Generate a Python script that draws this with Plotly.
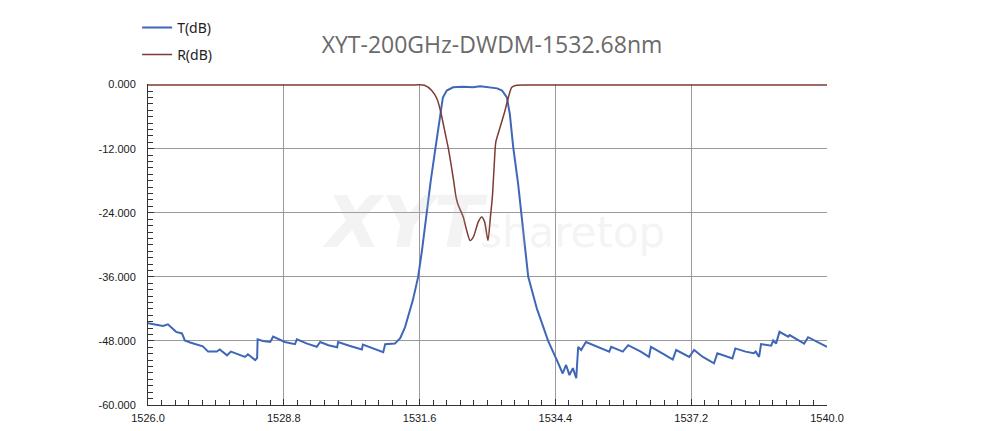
import numpy as np
import plotly.graph_objects as go

# Transmission curve T(dB): wavelength (nm) and level (dB)
t_wavelength = [1526.00, 1526.31, 1526.41, 1526.52, 1526.58, 1526.70, 1526.76, 1526.87, 1527.13, 1527.24,
                1527.42, 1527.48, 1527.63, 1527.71, 1527.90, 1528.00, 1528.06, 1528.21, 1528.25, 1528.26,
                1528.37, 1528.52, 1528.58, 1528.82, 1529.03, 1529.07, 1529.28, 1529.48, 1529.55, 1529.72,
                1529.90, 1529.92, 1530.15, 1530.41, 1530.43, 1530.65, 1530.85, 1530.89, 1531.09, 1531.20,
                1531.30, 1531.46, 1531.57, 1531.65, 1531.75, 1531.83, 1531.92, 1532.02, 1532.08, 1532.16,
                1532.29, 1532.49, 1532.70, 1532.85, 1533.05, 1533.20, 1533.30, 1533.40, 1533.46, 1533.53,
                1533.63, 1533.70, 1533.84, 1534.02, 1534.25, 1534.43, 1534.55, 1534.62, 1534.69, 1534.76,
                1534.83, 1534.87, 1534.93, 1535.03, 1535.24, 1535.51, 1535.55, 1535.79, 1535.90, 1536.16,
                1536.33, 1536.37, 1536.64, 1536.82, 1536.89, 1537.16, 1537.26, 1537.44, 1537.67, 1537.74,
                1538.05, 1538.11, 1538.32, 1538.49, 1538.53, 1538.60, 1538.64, 1538.85, 1538.89, 1538.95,
                1539.02, 1539.20, 1539.23, 1539.53, 1539.61, 1540.00]
t_level = [-44.7, -45.2, -44.9, -45.7, -46.3, -46.6, -47.9, -48.3, -49.0, -50.0,
           -50.0, -49.6, -50.7, -50.0, -50.7, -51.0, -50.5, -51.6, -51.2, -47.7,
           -48.0, -48.2, -47.2, -48.2, -48.6, -47.7, -48.5, -49.1, -48.2, -48.8,
           -49.2, -48.2, -48.9, -49.6, -48.7, -49.4, -50.1, -48.6, -48.5, -47.5,
           -45.4, -40.4, -36.0, -31.0, -23.6, -18.0, -12.3, -5.5, -2.4, -1.1,
           -0.5, -0.4, -0.5, -0.3, -0.5, -0.7, -1.1, -2.4, -5.5, -11.7,
           -18.5, -24.0, -36.0, -42.0, -48.0, -51.6, -54.1, -52.5, -54.4, -53.1,
           -55.0, -49.1, -49.7, -48.2, -49.0, -50.0, -49.1, -50.0, -48.8, -50.0,
           -51.0, -49.1, -50.5, -51.5, -49.7, -51.0, -49.7, -51.0, -52.2, -50.3,
           -51.3, -49.4, -50.0, -50.3, -50.0, -51.0, -48.6, -48.9, -47.9, -48.5,
           -46.3, -47.2, -46.9, -48.5, -47.3, -49.1]

# Reflection curve R(dB)
r_wavelength = [1526.00, 1531.50, 1531.70, 1531.85, 1531.96, 1532.03, 1532.13, 1532.20, 1532.30, 1532.35,
                1532.39, 1532.50, 1532.57, 1532.64, 1532.71, 1532.81, 1532.88, 1532.94, 1533.01, 1533.06,
                1533.10, 1533.14, 1533.17, 1533.24, 1533.36, 1533.43, 1533.50, 1533.60, 1533.80, 1540.00]
r_level = [-0.05, -0.05, -0.1, -1.1, -2.7, -4.9, -9.2, -12.3, -17.9, -21.0,
           -22.4, -24.8, -27.3, -29.2, -28.5, -25.7, -24.8, -25.7, -29.2, -24.8,
           -21.1, -14.8, -10.8, -8.6, -4.9, -2.4, -0.5, -0.1, -0.05, -0.05]

x_tick_vals = [1526.0, 1528.8, 1531.6, 1534.4, 1537.2, 1540.0]
x_tick_text = ["1526.0", "1528.8", "1531.6", "1534.4", "1537.2", "1540.0"]
y_tick_vals = [0, -12, -24, -36, -48, -60]
y_tick_text = ["0.000", "-12.000", "-24.000", "-36.000", "-48.000", "-60.000"]

chart_title = "XYT-200GHz-DWDM-1532.68nm"

x_minor = list(np.round(np.arange(1526.0, 1540.001, 0.28), 2))
y_minor = list(np.round(np.arange(-60.0, 0.001, 1.2), 2))

# the page body has an 8px margin, so the figure is sized/offset to land in place
W, H = 983, 423

fig = go.Figure()
fig.add_trace(go.Scatter(x=t_wavelength, y=t_level, mode="lines", name="T(dB)",
                         legendgroup="t", line=dict(color="#3f67b8", width=2)))
fig.add_trace(go.Scatter(x=r_wavelength, y=r_level, mode="lines", name="R(dB)",
                         legendgroup="r", line=dict(color="#7d3b33", width=1.5, shape="spline", smoothing=0.6)))

fig.update_layout(
    width=W, height=H,
    margin=dict(l=140, r=164, t=76, b=26, autoexpand=False),
    paper_bgcolor="white", plot_bgcolor="white",
    title=dict(text=chart_title, x=484 / W, xanchor="center", y=1 - 37 / H, yanchor="middle",
               font=dict(family="Open Sans", size=23, color="#6a6a6a")),
    legend=dict(x=-0.016, xanchor="left", y=1.225, yanchor="top", traceorder="grouped",
                tracegroupgap=6, itemwidth=30, bgcolor="rgba(0,0,0,0)",
                font=dict(family="Noto Sans", size=14, color="#1e1e1e")),
    showlegend=True,
)

fig.update_xaxes(range=[1526, 1540], tickmode="array", tickvals=x_tick_vals, ticktext=x_tick_text,
                 showline=True, linecolor="#333333", linewidth=1, mirror=False,
                 showgrid=True, gridcolor="#9a9a9a", gridwidth=1,
                 ticks="inside", ticklen=6, tickcolor="#333333",
                 minor=dict(tickmode="array", tickvals=x_minor, ticks="inside", ticklen=5,
                            tickcolor="#333333", showgrid=False),
                 tickfont=dict(family="Liberation Sans", size=11, color="#1a1a1a"),
                 ticklabelstandoff=3, zeroline=False)
fig.update_yaxes(range=[-60, 0.12], tickmode="array", tickvals=y_tick_vals, ticktext=y_tick_text,
                 showline=True, linecolor="#333333", linewidth=1, mirror=False,
                 showgrid=True, gridcolor="#9a9a9a", gridwidth=1,
                 ticks="inside", ticklen=6, tickcolor="#333333",
                 minor=dict(tickmode="array", tickvals=y_minor, ticks="inside", ticklen=5,
                            tickcolor="#333333", showgrid=False),
                 tickfont=dict(family="Liberation Sans", size=11, color="#1a1a1a"),
                 ticklabelstandoff=9, zeroline=False)

# faint watermark
fig.add_annotation(text="<b><i>XYT</i></b>", x=1531.3, y=-25.8, xref="x", yref="y", showarrow=False,
                   font=dict(family="DejaVu Sans", size=72, color="rgba(190,190,190,0.18)"))
fig.add_annotation(text="sharetop", x=1534.75, y=-27.7, xref="x", yref="y", showarrow=False,
                   font=dict(family="DejaVu Sans", size=42, color="rgba(190,190,190,0.18)"))

fig.write_html("out.html")
